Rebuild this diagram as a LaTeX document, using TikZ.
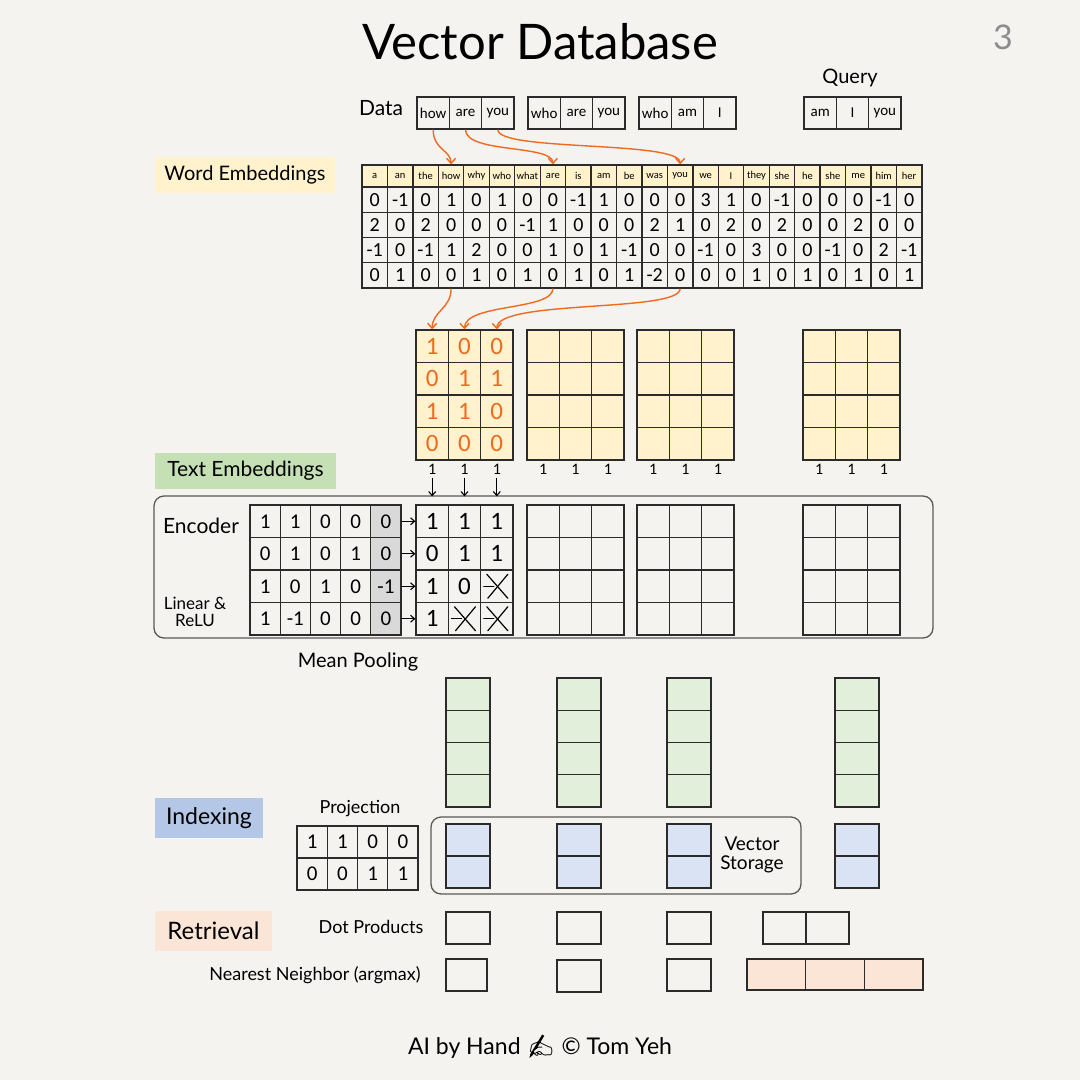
\documentclass[tikz,border=0pt]{standalone}
\usepackage{fontspec}
\setmainfont{Lato}
\newfontfamily\cellfont{Carlito}
\newfontfamily\emojifont{Noto Emoji}
\usetikzlibrary{arrows.meta}

\definecolor{paper}{HTML}{F4F3F0}
\definecolor{pen}{HTML}{F06A1E}
\definecolor{grid}{HTML}{2B2B2B}
\definecolor{wordfill}{HTML}{FFF2CC}
\definecolor{textfill}{HTML}{C5E0B4}
\definecolor{poolfill}{HTML}{E2EFDA}
\definecolor{indexfill}{HTML}{B4C7E7}
\definecolor{storefill}{HTML}{DAE3F3}
\definecolor{retrfill}{HTML}{FBE5D6}
\definecolor{biasfill}{HTML}{D9D9D9}

\newcommand{\fsz}[1]{\fontsize{#1}{#1}\selectfont}

\tikzset{
  cell/.style 2 args={draw=grid, line width=1.3pt, inner sep=0pt, minimum width=#1, minimum height=#2},
  tag/.style={inner sep=0pt, minimum height=36pt, font=\fsz{20}},
  frame/.style={draw=black!65, line width=1.3pt, rounded corners=10pt, inner sep=0pt},
  hand/.style={font=\cellfont\fsz{25}},
  pen arrow/.style={draw=pen, line width=1.4pt, -{Straight Barb[length=5pt,width=9pt]}},
  tick arrow/.style={line width=1.1pt, -{Straight Barb[length=4pt,width=7pt]}},
  cross/.style={line width=1.2pt, line cap=round}
}

\begin{document}
\begin{tikzpicture}[x=1pt, y=-1pt]
\path[use as bounding box, fill=paper] (0,0) rectangle (1080,1080);

% title
\node[font=\fsz{49}] (title) at (540,42) {Vector Database};
\node[font=\fsz{34}, text=black!45] (page) at (1003,37) {3};

% data and query
\node[font=\fsz{21}] (data) at (381,108) {Data};
\node[font=\fsz{20}] (query) at (850,78) {Query};
\foreach \w [count=\i] in {how,are,you}
  \node[cell={32.33pt}{32pt}, font=\cellfont\fsz{15}] (d1-\i) at ({417+(\i-0.5)*32.33},113) {\w};
\foreach \w [count=\i] in {who,are,you}
  \node[cell={32.33pt}{32pt}, font=\cellfont\fsz{15}] (d2-\i) at ({528+(\i-0.5)*32.33},113) {\w};
\foreach \w [count=\i] in {who,am,I}
  \node[cell={32.33pt}{32pt}, font=\cellfont\fsz{15}] (d3-\i) at ({639+(\i-0.5)*32.33},113) {\w};
\foreach \w [count=\i] in {am,I,you}
  \node[cell={32.33pt}{32pt}, font=\cellfont\fsz{15}] (q-\i) at ({804+(\i-0.5)*32.33},113) {\w};

% word embeddings
\node[tag, fill=wordfill, minimum width=180pt] (wordtag) at (245,174.5) {Word Embeddings};
\foreach \w [count=\i] in {a,an,the,how,why,who,what,are,is,am,be,was,you,we,I,they,she,he,she,me,him,her}
  \node[cell={25.45pt}{22pt}, fill=wordfill, font=\cellfont\fsz{10.5}] (h\i) at ({362+(\i-0.5)*25.45},176) {\w};
\foreach \row [count=\r] in {{0,-1,0,1,0,1,0,0,-1,1,0,0,0,3,1,0,-1,0,0,0,-1,0},{2,0,2,0,0,0,-1,1,0,0,0,2,1,0,2,0,2,0,0,2,0,0},{-1,0,-1,1,2,0,0,1,0,1,-1,0,0,-1,0,3,0,0,-1,0,2,-1},{0,1,0,0,1,0,1,0,1,0,1,-2,0,0,0,1,0,1,0,1,0,1}}
  \foreach \v [count=\c] in \row
    \node[cell={25.45pt}{25.25pt}, font=\cellfont\fsz{20}] (e\r-\c) at ({362+(\c-0.5)*25.45},{187+(\r-0.5)*25.25}) {\v};

\draw[pen arrow] (d1-1.south) .. controls +(0,20) and +(0,-14) .. (h4.north);
\draw[pen arrow] (d1-2.south) .. controls +(0,24) and +(0,-20) .. (h8.north);
\draw[pen arrow] (d1-3.south) .. controls +(0,22) and +(0,-24) .. (h13.north);

% lookup matrices
\foreach \k/\x in {1/416,2/527,3/637,4/803} {
  \foreach \r in {1,...,4}
    \foreach \c in {1,2,3}
      \node[cell={32.33pt}{32.5pt}, fill=wordfill] (m\k-\r-\c) at ({\x+(\c-0.5)*32.33},{330+(\r-0.5)*32.5}) {};
  \foreach \c in {1,2,3}
    \node[font=\cellfont\fsz{16}] (u\k-\c) at ({\x+(\c-0.5)*32.33},469) {1};
}
\foreach \row [count=\r] in {{1,0,0},{0,1,1},{1,1,0},{0,0,0}}
  \foreach \v [count=\c] in \row
    \node[hand, text=pen] (mv\r-\c) at (m1-\r-\c) {\v};

\draw[pen arrow] (e4-4.south) .. controls +(0,20) and +(0,-18) .. (m1-1-1.north);
\draw[pen arrow] (e4-8.south) .. controls +(0,22) and +(0,-26) .. (m1-1-2.north);
\draw[pen arrow] (e4-13.south) .. controls +(0,24) and +(0,-30) .. (m1-1-3.north);

% encoder
\node[tag, fill=textfill, minimum width=181pt, font=\fsz{21}] (texttag) at (245.5,470.5) {Text Embeddings};
\node[frame, minimum width=779pt, minimum height=142pt] (encbox) at (543.5,567) {};
\node[font=\fsz{21}] (encoder) at (201,526) {Encoder};
\node[font=\fsz{17}, align=center] (relu) at (195,612) {Linear \&\\ReLU};
\foreach \row [count=\r] in {{1,1,0,0,0},{0,1,0,1,0},{1,0,1,0,-1},{1,-1,0,0,0}}
  \foreach \v [count=\c] in \row {
    \ifnum\c=5 \def\bg{biasfill}\else\def\bg{none}\fi
    \node[cell={30.2pt}{32.5pt}, fill=\bg, font=\cellfont\fsz{21}] (w\r-\c) at ({250+(\c-0.5)*30.2},{505+(\r-0.5)*32.5}) {\v};
  }
\foreach \k/\x in {1/416,2/527,3/637,4/803}
  \foreach \r in {1,...,4}
    \foreach \c in {1,2,3}
      \node[cell={32.33pt}{32.5pt}] (o\k-\r-\c) at ({\x+(\c-0.5)*32.33},{505+(\r-0.5)*32.5}) {};
\foreach \r/\c/\v in {1/1/1,1/2/1,1/3/1,2/1/0,2/2/1,2/3/1,3/1/1,3/2/0,4/1/1}
  \node[hand] (ov\r-\c) at (o1-\r-\c) {\v};
\foreach \r/\c in {3/3,4/2,4/3} {
  \draw[cross] ([shift={(-10,-12)}]o1-\r-\c.center) -- ([shift={(11,12)}]o1-\r-\c.center);
  \draw[cross] ([shift={(-9,12)}]o1-\r-\c.center) -- ([shift={(11,-12)}]o1-\r-\c.center);
  \draw[cross] ([shift={(-13,0)}]o1-\r-\c.center) -- ([shift={(-3,0)}]o1-\r-\c.center);
}
\foreach \r in {1,...,4}
  \draw[tick arrow] (w\r-5.east) -- (o1-\r-1.west);
\foreach \c in {1,2,3}
  \draw[tick arrow, shorten >=8pt] (u1-\c.south) -- (o1-1-\c.north);

% pooling and indexing
\node[font=\fsz{20}] (pooling) at (358,662) {Mean Pooling};
\node[tag, fill=indexfill, minimum width=108pt, minimum height=40pt, font=\fsz{23}] (indextag) at (209,818) {Indexing};
\node[font=\fsz{18}] (projection) at (360,809) {Projection};
\foreach \row [count=\r] in {{1,1,0,0},{0,0,1,1}}
  \foreach \v [count=\c] in \row
    \node[cell={30.25pt}{32pt}, font=\cellfont\fsz{21}] (j\r-\c) at ({297+(\c-0.5)*30.25},{826+(\r-0.5)*32}) {\v};
\node[frame, minimum width=370pt, minimum height=77pt] (storebox) at (616,855.5) {};
\node[font=\fsz{19}, align=center] (storage) at (752,855) {Vector\\Storage};
\foreach \k/\x in {1/468,2/579,3/689,4/857} {
  \foreach \r in {1,...,4}
    \node[cell={44pt}{32.25pt}, fill=poolfill] (p\k-\r) at (\x,{678+(\r-0.5)*32.25}) {};
  \foreach \r in {1,2}
    \node[cell={44pt}{32pt}, fill=storefill] (s\k-\r) at (\x,{824+(\r-0.5)*32}) {};
}

% retrieval
\node[tag, fill=retrfill, minimum width=117pt, minimum height=40pt, font=\fsz{24}] (retrtag) at (213.5,931) {Retrieval};
\node[font=\fsz{18}] (dotlabel) at (371,927) {Dot Products};
\node[font=\fsz{18}] (nnlabel) at (315,975) {Nearest Neighbor (argmax)};
\foreach \k/\x in {1/468,2/579,3/689}
  \node[cell={44pt}{32pt}] (dot\k) at (\x,928) {};
\node[cell={43pt}{32pt}] (dot4-1) at (784.5,928) {};
\node[cell={43pt}{32pt}] (dot4-2) at (827.5,928) {};
\node[cell={41pt}{32pt}] (nn1) at (466.5,975) {};
\node[cell={44pt}{32pt}] (nn2) at (579,976) {};
\node[cell={44pt}{32pt}] (nn3) at (689,975) {};
\foreach \c in {1,2,3}
  \node[cell={58.67pt}{31pt}, fill=retrfill] (nn4-\c) at ({747+(\c-0.5)*58.67},974.5) {};

% credit
\node[font=\fsz{23}] (credit) at (540,1047) {AI by Hand {\emojifont ✍} © Tom Yeh};
\end{tikzpicture}
\end{document}
